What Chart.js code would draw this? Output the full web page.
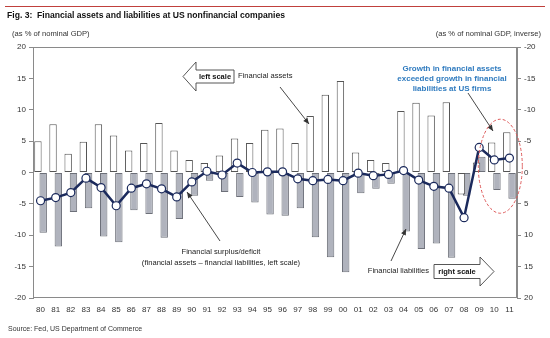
<!DOCTYPE html>
<html><head><meta charset="utf-8">
<script src="https://cdn.jsdelivr.net/npm/chart.js@4.4.1/dist/chart.umd.min.js"></script>
<style>
html,body{margin:0;padding:0;background:#fff;}
#wrap{position:relative;width:550px;height:338px;overflow:hidden;font-family:"Liberation Sans",Arial,sans-serif;}
#c{position:absolute;left:0;top:0;}
.t{position:absolute;white-space:nowrap;line-height:1;color:#222;}
</style></head><body>
<div id="wrap">
<canvas id="c" width="550" height="338"></canvas>
<div style="position:absolute;left:5px;top:6px;width:540px;height:1px;background:#c0403c;"></div>
</div>
<script>
const categories = ['80','81','82','83','84','85','86','87','88','89','90','91','92','93','94','95','96','97','98','99','00','01','02','03','04','05','06','07','08','09','10','11'];
const assets = [5.0, 7.7, 3.0, 4.9, 7.7, 5.9, 3.5, 4.7, 7.9, 3.5, 2.0, 1.5, 2.7, 5.4, 4.7, 6.8, 7.0, 4.7, 9.0, 12.4, 14.6, 3.2, 2.0, 1.5, 9.8, 11.1, 9.1, 11.2, -3.5, 1.6, 4.8, 6.4];
const liabilities = [9.6, 11.8, 6.3, 5.7, 10.2, 11.1, 6.0, 6.6, 10.4, 7.4, 3.7, 1.3, 3.1, 3.9, 4.8, 6.7, 6.9, 5.7, 10.3, 13.5, 15.9, 3.3, 2.6, 1.8, 9.4, 12.2, 11.3, 13.6, 3.7, -2.5, 2.8, 4.2];
const surplus = [-4.5, -4.0, -3.2, -0.9, -2.4, -5.3, -2.5, -1.8, -2.6, -3.9, -1.5, 0.2, -0.4, 1.5, 0.0, 0.1, 0.1, -1.0, -1.3, -1.1, -1.3, -0.1, -0.5, -0.3, 0.3, -1.2, -2.2, -2.5, -7.2, 4.0, 2.0, 2.3];
const leftTicks = [-20, -15, -10, -5, 0, 5, 10, 15, 20];
const rightTicks = [-20, -15, -10, -5, 0, 5, 10, 15, 20];

const FONT = '"Liberation Sans", Arial, sans-serif';

// text overlays
const texts = [
  {s:'Fig. 3:\u00a0 Financial assets and liabilities at US nonfinancial companies', x:7, y:15, a:'l', size:8.6, bold:true, color:'#111'},
  {s:'(as % of nominal GDP)', x:12, y:34, a:'l', size:7.6, color:'#333'},
  {s:'(as % of nominal GDP, inverse)', x:541, y:34, a:'r', size:7.6, color:'#333'},
  {s:'Source: Fed, US Department of Commerce', x:8, y:328, a:'l', size:7, color:'#333'},
  {s:'left scale', x:215, y:77, a:'c', size:7.5, bold:true, color:'#111'},
  {s:'Financial assets', x:238, y:76, a:'l', size:7.6, color:'#222'},
  {s:'Growth in financial assets', x:452, y:69, a:'c', size:8, bold:true, color:'#2f7bbf'},
  {s:'exceeded growth in financial', x:452, y:79, a:'c', size:8, bold:true, color:'#2f7bbf'},
  {s:'liabilities at US firms', x:452, y:89, a:'c', size:8, bold:true, color:'#2f7bbf'},
  {s:'Financial surplus/deficit', x:221, y:252, a:'c', size:7.6, color:'#222'},
  {s:'(financial assets \u2013 financial liabilities, left scale)', x:221, y:263, a:'c', size:7.6, color:'#222'},
  {s:'Financial liabilities', x:429, y:271, a:'r', size:7.6, color:'#222'},
  {s:'right scale', x:457, y:272, a:'c', size:7.5, bold:true, color:'#111'}
];
const wrap = document.getElementById('wrap');
texts.forEach(t => {
  const d = document.createElement('div');
  d.className = 't';
  d.textContent = t.s;
  d.style.fontSize = t.size + 'px';
  d.style.fontWeight = t.bold ? 'bold' : 'normal';
  d.style.color = t.color;
  d.style.top = t.y + 'px';
  d.style.left = t.x + 'px';
  const tx = t.a === 'l' ? '0' : (t.a === 'r' ? '-100%' : '-50%');
  d.style.transform = 'translate(' + tx + ',-50%)';
  wrap.appendChild(d);
});

function arrow(ctx, x1, y1, x2, y2) {
  ctx.save();
  ctx.strokeStyle = '#333'; ctx.fillStyle = '#333'; ctx.lineWidth = 0.9;
  ctx.beginPath(); ctx.moveTo(x1, y1); ctx.lineTo(x2, y2); ctx.stroke();
  const ang = Math.atan2(y2 - y1, x2 - x1), L = 6, W = 2.6;
  ctx.beginPath();
  ctx.moveTo(x2, y2);
  ctx.lineTo(x2 - L*Math.cos(ang) + W*Math.sin(ang), y2 - L*Math.sin(ang) - W*Math.cos(ang));
  ctx.lineTo(x2 - L*Math.cos(ang) - W*Math.sin(ang), y2 - L*Math.sin(ang) + W*Math.cos(ang));
  ctx.closePath(); ctx.fill();
  ctx.restore();
}
function blockArrow(ctx, pts) {
  ctx.save();
  ctx.fillStyle = '#fff'; ctx.strokeStyle = '#444'; ctx.lineWidth = 0.9;
  ctx.beginPath();
  pts.forEach((p, i) => i ? ctx.lineTo(p[0], p[1]) : ctx.moveTo(p[0], p[1]));
  ctx.closePath(); ctx.fill(); ctx.stroke();
  ctx.restore();
}

const decor = {
  id: 'decor',
  afterDraw(chart) {
    const {ctx, chartArea: a, scales} = chart;
    ctx.save();
    ctx.strokeStyle = '#8a8a8a'; ctx.lineWidth = 1;
    ctx.strokeRect(a.left + 0.5, a.top + 0.5, a.right - a.left - 1, a.bottom - a.top - 1);
    ctx.restore();
    blockArrow(ctx, [[183,76.5],[196,62],[196,70],[234,70],[234,83],[196,83],[196,91]]);
    blockArrow(ctx, [[494,271.5],[480,257],[480,264.5],[434,264.5],[434,278.5],[480,278.5],[480,286]]);
    arrow(ctx, 280, 87, 309, 124);
    arrow(ctx, 468, 93, 493, 131);
    arrow(ctx, 220, 241, 187, 192);
    arrow(ctx, 391, 261, 406, 229);
    // dashed ellipse around the last three years
    const x = scales.x;
    const cx = (x.getPixelForValue(29) + x.getPixelForValue(31)) / 2 + 6;
    const cy = scales.y.getPixelForValue(1);
    ctx.save();
    ctx.strokeStyle = '#dd5a5a'; ctx.lineWidth = 1; ctx.setLineDash([3, 2]);
    ctx.beginPath(); ctx.ellipse(cx, cy, 22, 47, 0, 0, Math.PI * 2); ctx.stroke();
    ctx.restore();
  }
};

new Chart(document.getElementById('c'), {
  type: 'bar',
  data: {
    labels: categories,
    datasets: [
      {type: 'line', label: 'Financial surplus/deficit', data: surplus, yAxisID: 'y', order: 0,
       borderColor: '#1b2a5c', borderWidth: 2.5, tension: 0,
       pointRadius: 4, pointBackgroundColor: '#fff', pointBorderColor: '#1b2a5c', pointBorderWidth: 1.2},
      {label: 'Financial assets', data: assets, yAxisID: 'y', order: 1,
       backgroundColor: '#fff', borderColor: '#555', borderWidth: 1, borderSkipped: false,
       categoryPercentage: 0.7, barPercentage: 1.4},
      {label: 'Financial liabilities', data: liabilities, yAxisID: 'y2', order: 2,
       backgroundColor: '#b0b3bd', borderColor: '#6d7079', borderWidth: 1, borderSkipped: false,
       categoryPercentage: 0.7, barPercentage: 1.4}
    ]
  },
  options: {
    responsive: false, animation: false,
    layout: {padding: {top: 47, left: 0, right: 0, bottom: 0}},
    plugins: {legend: {display: false}, tooltip: {enabled: false}},
    scales: {
      x: {
        grid: {display: false, drawTicks: false}, border: {display: false},
        ticks: {color: '#333', font: {size: 8, family: FONT}, padding: 7, maxRotation: 0, autoSkip: false},
        afterFit(s) { s.height = 40; }
      },
      y: {
        position: 'left', min: leftTicks[0], max: leftTicks[leftTicks.length - 1],
        afterBuildTicks(s) { s.ticks = leftTicks.map(v => ({value: v})); },
        ticks: {color: '#333', font: {size: 8, family: FONT}, padding: 3},
        grid: {drawOnChartArea: false, tickLength: 4, color: '#8a8a8a'},
        border: {color: '#8a8a8a'},
        afterFit(s) { s.width = 33; }
      },
      y2: {
        position: 'right', reverse: true, min: rightTicks[0], max: rightTicks[rightTicks.length - 1],
        afterBuildTicks(s) { s.ticks = rightTicks.map(v => ({value: v})); },
        ticks: {color: '#333', font: {size: 8, family: FONT}, padding: 3},
        grid: {drawOnChartArea: false, tickLength: 4, color: '#8a8a8a'},
        border: {color: '#8a8a8a'},
        afterFit(s) { s.width = 33; }
      }
    }
  },
  plugins: [decor]
});
</script>
</body></html>
